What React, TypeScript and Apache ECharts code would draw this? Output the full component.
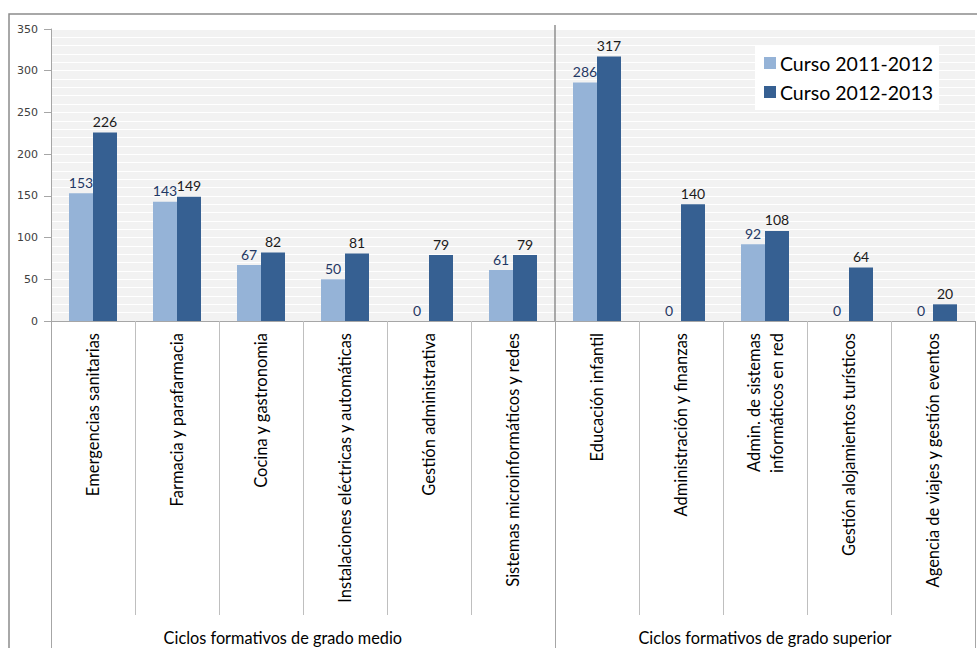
import React, { useEffect, useRef } from "react";
import * as echarts from "echarts";

const categories = [
  "Emergencias sanitarias",
  "Farmacia y parafarmacia",
  "Cocina y gastronomia",
  "Instalaciones eléctricas y automáticas",
  "Gestión administrativa",
  "Sistemas microinformáticos y redes",
  "Educación infantil",
  "Administración y finanzas",
  "Admin. de sistemas\ninformáticos en red",
  "Gestión alojamientos turísticos",
  "Agencia de viajes y gestión eventos",
];
const curso2011 = [153, 143, 67, 50, 0, 61, 286, 0, 92, 0, 0];
const curso2012 = [226, 149, 82, 81, 79, 79, 317, 140, 108, 64, 20];
const seriesNames = ["Curso 2011-2012", "Curso 2012-2013"];
const groupNames = ["Ciclos formativos de grado medio", "Ciclos formativos de grado superior"];
const groupBounds = [0, 6, 11];
const groupLabelPos = [2.76, 8.5];
const yTicks = { min: 0, max: 350, interval: 50 };

const FONT = "Lato, 'Open Sans', sans-serif";

export default function App() {
  const ref = useRef<HTMLDivElement>(null);
  useEffect(() => {
    document.body.style.margin = "0";
    if (!ref.current) return;
    const chart = echarts.init(ref.current, null, { renderer: "svg" });
    const option: any = {
      animation: false,
      backgroundColor: "#ffffff",
      grid: {
        left: 51,
        right: 2,
        top: 29,
        bottom: 327,
        show: true,
        backgroundColor: "#f2f2f2",
        borderWidth: 0,
      },
      legend: {
        orient: "vertical",
        left: 755,
        top: 45,
        backgroundColor: "#ffffff",
        padding: [8, 6, 8, 9],
        itemWidth: 12,
        itemHeight: 12,
        itemGap: 9,
        icon: "rect",
        textStyle: { fontFamily: FONT, fontSize: 19.5, color: "#000000", padding: [0, 0, 0, -1] },
        data: seriesNames,
      },
      xAxis: [
        {
          type: "category",
          data: categories,
          axisLine: { show: true, lineStyle: { color: "#a6a6a6", width: 1 } },
          axisTick: {
            show: true,
            interval: 0,
            alignWithLabel: false,
            length: 294,
            lineStyle: { color: "#bfbfbf", width: 1 },
          },
          axisLabel: {
            interval: 0,
            rotate: 90,
            margin: 12,
            fontFamily: FONT,
            fontSize: 16.5,
            lineHeight: 23,
            color: "#000000",
            hideOverlap: false,
          },
          splitLine: { show: false },
        },
        {
          type: "value",
          min: 0,
          max: 11,
          position: "bottom",
          axisLine: { show: false },
          splitLine: { show: false },
          axisTick: {
            show: true,
            customValues: groupBounds,
            length: 340,
            lineStyle: { color: "#a6a6a6", width: 1 },
          },
          axisLabel: {
            show: true,
            customValues: groupLabelPos,
            margin: 308,
            fontFamily: FONT,
            fontSize: 16.3,
            color: "#000000",
            formatter: (v: number) => (v < 6 ? groupNames[0] : groupNames[1]),
          },
        },
      ],
      yAxis: {
        type: "value",
        min: yTicks.min,
        max: yTicks.max,
        interval: yTicks.interval,
        axisLine: { show: true, lineStyle: { color: "#a6a6a6" } },
        axisTick: { show: true, length: 7, lineStyle: { color: "#a6a6a6" } },
        axisLabel: { fontFamily: "'DejaVu Sans', sans-serif", fontSize: 11, color: "#404040", margin: 13 },
        splitLine: { show: true, lineStyle: { color: "#ffffff", width: 1 } },
        minorTick: { show: false, splitNumber: 5 },
        minorSplitLine: { show: true, lineStyle: { color: "#ffffff", width: 1 } },
      },
      series: [
        {
          name: seriesNames[0],
          type: "bar",
          xAxisIndex: 0,
          data: curso2011,
          barWidth: 24,
          barGap: "0%",
          itemStyle: { color: "#95b3d7" },
          label: {
            show: true,
            position: "top",
            distance: 4,
            fontFamily: FONT,
            fontSize: 14,
            fontWeight: "normal",
            textBorderWidth: 0,
            color: "#1f3864",
          },
        },
        {
          name: seriesNames[1],
          type: "bar",
          xAxisIndex: 0,
          data: curso2012,
          barWidth: 24,
          barGap: "0%",
          itemStyle: { color: "#366092" },
          label: {
            show: true,
            position: "top",
            distance: 4,
            fontFamily: FONT,
            fontSize: 14,
            fontWeight: "normal",
            textBorderWidth: 0,
            color: "#1a1a1a",
          },
        },
      ],
    };
    chart.setOption(option);
    const sepX = chart.convertToPixel({ xAxisIndex: 1 }, groupBounds[1]) as number;
    const topY = chart.convertToPixel({ yAxisIndex: 0 }, yTicks.max) as number;
    chart.setOption({
      graphic: [
        {
          type: "rect",
          shape: { x: 9, y: 14, width: 1000, height: 700 },
          style: { fill: "none", stroke: "#8c8c8c", lineWidth: 1.5 },
          silent: true,
        },
        {
          type: "line",
          shape: { x1: sepX, y1: topY - 4, x2: sepX, y2: topY + 292 },
          style: { stroke: "#7f7f7f", lineWidth: 1.3 },
          silent: true,
        },
      ],
    });
    return () => chart.dispose();
  }, []);
  return <div ref={ref} style={{ width: 977, height: 648 }} />;
}
